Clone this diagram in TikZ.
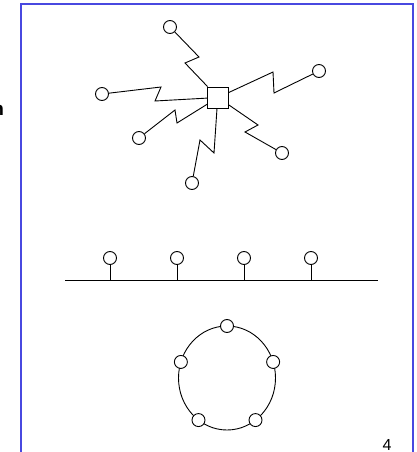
\documentclass[tikz,border=0pt]{standalone}
\usepackage{fontspec}
\setmainfont{Liberation Serif}
\newfontfamily\slidesans{Liberation Sans}
\usetikzlibrary{calc}
\definecolor{slideblue}{RGB}{72,72,224}
\tikzset{
  station/.style={circle,draw,fill=white,minimum size=13pt,inner sep=0pt},
  hubbox/.style={rectangle,draw,fill=white,minimum size=21pt,inner sep=0pt},
  wire/.style={line width=0.9pt,line join=miter}
}

\begin{document}
\begin{tikzpicture}[x=1pt,y=-1pt,line width=0.9pt]
    \useasboundingbox (0,0) rectangle (416,452);
    \draw[slideblue,line width=2pt] (21,454) -- (21,4) -- (413,4) -- (413,454);
    \node[anchor=base east,inner sep=0pt,font=\slidesans\bfseries\fontsize{19}{19}\selectfont] (cut) at (4.5,115) {n};
    \node[anchor=base,inner sep=0pt,font=\slidesans\fontsize{16}{16}\selectfont] (page) at (387,450) {4};
    %% star
    \node[hubbox] (hub) at (218,97.5) {};
    \node[station] (s1) at (170,27) {};
    \node[station] (s2) at (319,71) {};
    \node[station] (s3) at (102,94) {};
    \node[station] (s4) at (139,138) {};
    \node[station] (s5) at (282,153) {};
    \node[station] (s6) at (192,183) {};
    \draw[wire] (s1) -- (199,57) -- (185,63) -- (hub);
    \draw[wire] (hub) -- (273,72) -- (274,93) -- (s2);
    \draw[wire] (s3) -- (161,87) -- (155,101) -- (hub);
    \draw[wire] (s4) -- (175,110) -- (177,123) -- (hub);
    \draw[wire] (hub) -- (258,125) -- (245,132) -- (s5);
    \draw[wire] (hub.south) ++(-1,0) coordinate (hs) (hs) -- (214,153) -- (200,140) -- (s6);
    %% bus
    \coordinate (busL) at (65,280);
    \coordinate (busR) at (378,280);
    \draw[wire] (busL) -- (busR);
    \foreach \i/\x in {1/110,2/177,3/244,4/311}{
      \node[station] (b\i) at (\x,258) {};
      \draw[wire] (b\i) -- (b\i |- busL);
    }
    %% ring
    \coordinate (rc) at (227,378);
    \draw[wire] (rc) ellipse [x radius=48.5,y radius=52];
    \foreach \i in {0,...,4}{
      \pgfmathsetmacro{\a}{90+72*\i}
      \node[station] (r\i) at ($(rc)+({48.5*cos(\a)},{-52*sin(\a)})$) {};
    }
\end{tikzpicture}
\end{document}
